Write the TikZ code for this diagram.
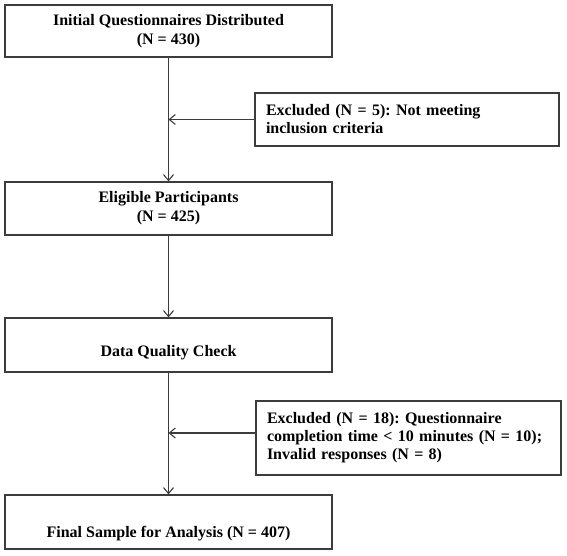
\documentclass[tikz,border=0pt]{standalone}
\usepackage{fontspec}
\setmainfont{Liberation Serif}
\usetikzlibrary{arrows.meta}
\definecolor{linegray}{HTML}{3C3C3C}
\frenchspacing
\begin{document}
\begin{tikzpicture}[x=1pt,y=-1pt,
  mainbox/.style={draw=linegray, line width=1.2pt, minimum width=327pt, inner sep=0pt,
    align=center, font=\fontsize{16}{19}\selectfont\bfseries},
  exbox/.style={draw=linegray, line width=1.2pt, inner xsep=11pt, inner ysep=0pt,
    align=left, font=\fontsize{16}{18}\selectfont\bfseries},
  flow/.style={draw=linegray, line width=1.2pt, -{Straight Barb[length=6pt,width=10pt,line width=1.1pt]}}
]
\useasboundingbox (0,0) rectangle (567,556);
\node[mainbox, minimum height=52pt] (b1) at (168.5,31) {Initial Questionnaires Distributed\\(N = 430)};
\node[mainbox, minimum height=53pt] (b2) at (168.5,208.5) {Eligible Participants\\(N = 425)};
\node[mainbox, minimum height=54pt, text height=25pt, text depth=3pt] (b3) at (168.5,345) {Data Quality Check};
\node[mainbox, minimum height=54pt, text height=33pt, text depth=3pt] (b4) at (168.5,522) {Final Sample for Analysis (N = 407)};
\node[exbox, text width=282pt, minimum height=53pt] (e1) at (407,119.5) {Excluded (N = 5): Not meeting\\inclusion criteria};
\node[exbox, text width=283pt, minimum height=74pt] (e2) at (408.5,438) {Excluded (N = 18): Questionnaire\\completion time < 10 minutes (N = 10);\\Invalid responses (N = 8)};
\draw[flow] (b1.south) -- (b2.north);
\draw[flow] (b2.south) -- (b3.north);
\draw[flow] (b3.south) -- (b4.north);
\draw[flow] (e1.west) -- (e1.west -| b1.south);
\draw[flow] ([yshift=5pt]e2.west) -- ([yshift=5pt]e2.west -| b1.south);
\end{tikzpicture}
\end{document}
